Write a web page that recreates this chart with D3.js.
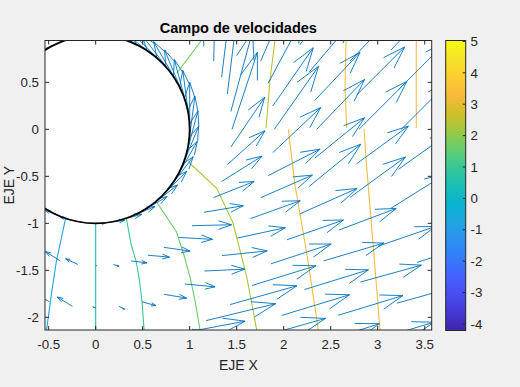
<!DOCTYPE html>
<html>
<head>
<meta charset="utf-8">
<script src="https://cdn.jsdelivr.net/npm/d3@7"></script>
<style>
  body { margin: 0; background: #f0f0f0; }
  text { font-family: "Liberation Sans", Arial, Helvetica, sans-serif; fill: #262626; }
</style>
</head>
<body>
<script>
// rings of the polar grid the field was sampled on
const radii = [1, 1.45, 1.9, 2.35, 2.8, 3.25, 3.7];

// [theta (deg), u, v] (data units, as quiver draws them)
const ring1 = [
  [120, -0.39, -0.225], [112.5, -0.443, -0.184],
  [67.5, -0.462, 0.191], [60, -0.433, 0.25], [52.5, -0.397, 0.304], [45, -0.354, 0.354],
  [37.5, -0.304, 0.397], [30, -0.25, 0.433], [22.5, -0.191, 0.462], [15, -0.129, 0.483],
  [7.5, -0.065, 0.496], [0, 0, 0.5], [-7.5, 0.064, 0.486], [-15, 0.122, 0.454],
  [-22.5, 0.172, 0.416], [-30, 0.215, 0.372], [-37.5, 0.244, 0.317], [-45, 0.262, 0.262],
  [-52.5, 0.262, 0.201], [-60, 0.26, 0.15], [-67.5, 0.249, 0.103], [-75, 0.232, 0.062],
  [-82.5, 0.178, 0.023], [-90, 0.1, 0], [-97.5, -0.04, 0.005], [-105, -0.116, 0.031],
  [-112.5, -0.157, 0.065], [-120, -0.173, 0.1]
];
const ring2 = [
  [-105, -0.16, 0.10], [-97.5, -0.13, 0.06], [-90, 0.01, 0], [-82.5, 0.06, -0.02],
  [-75, 0.17, -0.02], [-67.5, 0.23, -0.02], [-60, 0.28, -0.04], [-52.5, 0.36, -0.02],
  [-45, 0.42, 0.01], [-37.5, 0.42, 0.07], [-30, 0.43, 0.17], [-22.5, 0.43, 0.27],
  [-15, 0.40, 0.36], [-7.5, 0.36, 0.53], [0, 0.27, 0.82], [7.5, 0.23, 0.85],
  [15, 0.11, 0.90], [22.5, 0.11, 0.90], [30, 0.02, 0.90], [37.5, -0.03, 0.90]
];
const ring3 = [
  [-105, -0.09, 0.05], [-97.5, -0.16, 0.10], [-90, -0.03, 0.01], [-82.5, 0.06, -0.03],
  [-75, 0.15, -0.04], [-67.5, 0.24, -0.04], [-60, 0.32, -0.03], [-52.5, 0.43, 0.02],
  [-45, 0.48, 0.05], [-37.5, 0.51, 0.11], [-30, 0.53, 0.19], [-22.5, 0.55, 0.24],
  [-15, 0.55, 0.28], [-7.5, 0.51, 0.48], [0, 0.47, 0.67], [7.5, 0.43, 0.62],
  [15, 0.37, 0.69], [22.5, 0.32, 0.74]
];
const ring4 = [
  [-75, 0.64, 0.11], [-67.5, 0.69, 0.13], [-60, 0.74, 0.18], [-52.5, 0.71, 0.20],
  [-45, 0.68, 0.21], [-37.5, 0.64, 0.21], [-30, 0.60, 0.21], [-22.5, 0.61, 0.27],
  [-15, 0.55, 0.45], [-7.5, 0.53, 0.43], [0, 0.51, 0.53], [7.5, 0.48, 0.51],
  [15, 0.45, 0.53], [22.5, 0.43, 0.55]
];
const ring5 = [
  [-52.5, 0.74, 0.21], [-45, 0.72, 0.22], [-37.5, 0.68, 0.21], [-30, 0.64, 0.19],
  [-22.5, 0.61, 0.23], [-15, 0.59, 0.43], [-7.5, 0.55, 0.40], [0, 0.51, 0.51],
  [7.5, 0.51, 0.51], [15, 0.48, 0.51]
];
const ring6 = [
  [-45, 0.72, 0.23], [-37.5, 0.69, 0.21], [-30, 0.65, 0.18], [-22.5, 0.61, 0.21],
  [-15, 0.59, 0.37], [-7.5, 0.56, 0.40], [0, 0.51, 0.51], [7.5, 0.51, 0.51],
  [15, 0.48, 0.51]
];
const ring7 = [
  [-37.5, 0.66, 0.20], [-30, 0.64, 0.18], [-22.5, 0.62, 0.20], [-15, 0.60, 0.32]
];
const rings = [ring1, ring2, ring3, ring4, ring5, ring6, ring7];

// contour lines [x, y] and their levels
const contourLevels = [-0.8, 0.3, 1.0, 1.6, 2.3, 1.7, 2.5, 3.4, 3.3, 3.4, 3.3];
const contourLines = [
  [[-0.32, -0.947], [-0.419, -1.409], [-0.472, -1.764], [-0.525, -2.155]],
  [[0, -1], [0, -2.135]],
  [[0.326, -0.947], [0.379, -1.231], [0.432, -1.409], [0.468, -1.621], [0.496, -1.869], [0.521, -2.218]],
  [[0.641, -0.763], [0.86, -1.093], [0.939, -1.338], [1.003, -1.571], [1.056, -1.816], [1.11, -2.135]],
  [[0.985, -0.345], [1.287, -0.628], [1.461, -0.997], [1.606, -1.568], [1.713, -2.135]],
  [[0.862, 0.596], [1.128, 0.95]],
  [[1.812, 0.011], [1.854, 0.524], [1.907, 0.95]],
  [[2.67, 0.011], [2.652, 0.453], [2.663, 0.95]],
  [[3.41, 0.011], [3.41, 0.5], [3.41, 0.95]],
  [[2.049, 0], [2.12, -0.593], [2.191, -1.0], [2.262, -1.426], [2.368, -2.135]],
  [[2.854, 0], [2.883, -0.412], [2.953, -1.249], [3.024, -2.135]]
];

const xTicks = [-0.5, 0, 0.5, 1, 1.5, 2, 2.5, 3, 3.5];
const yTicks = [-2, -1.5, -1, -0.5, 0, 0.5];
const cbTicks = [-4, -3, -2, -1, 0, 1, 2, 3, 4, 5];
const cbRange = [-4.21, 5.03];

// parula, sampled
const parula = [
  [0.2422, 0.1504, 0.6603], [0.2706, 0.2147, 0.8364], [0.2813, 0.3006, 0.9414],
  [0.2699, 0.3892, 0.9906], [0.1963, 0.4847, 0.9892], [0.1687, 0.5703, 0.9359],
  [0.1248, 0.6459, 0.8883], [0.0297, 0.7082, 0.8163], [0.0964, 0.7500, 0.7120],
  [0.2161, 0.7843, 0.5923], [0.3909, 0.8029, 0.4354], [0.6174, 0.7876, 0.2612],
  [0.8203, 0.7498, 0.1535], [0.9728, 0.7298, 0.2394], [0.9892, 0.8136, 0.1885],
  [0.9610, 0.8890, 0.1537], [0.9769, 0.9839, 0.0805]
].map(c => d3.rgb(c[0] * 255, c[1] * 255, c[2] * 255).formatHex());
const color = d3.scaleSequential(d3.piecewise(d3.interpolateRgb, parula)).domain(cbRange);

const W = 520, H = 387;
const svg = d3.select("body").append("svg").attr("width", W).attr("height", H);

const x = d3.scaleLinear().domain([-0.539, 3.574]).range([45, 431.7]);
const y = d3.scaleLinear().domain([-2.135, 0.945]).range([330, 40.5]);
const [x0, x1] = x.range(), [y1, y0] = y.range();

svg.append("rect").attr("x", x0).attr("y", y0)
  .attr("width", x1 - x0).attr("height", y1 - y0).attr("fill", "white");

svg.append("clipPath").attr("id", "clip").append("rect")
  .attr("x", x0).attr("y", y0).attr("width", x1 - x0).attr("height", y1 - y0);

const plot = svg.append("g").attr("clip-path", "url(#clip)");

// contour lines
const line = d3.line().x(d => x(d[0])).y(d => y(d[1]));
plot.selectAll("path.cont").data(contourLines).enter().append("path")
  .attr("class", "cont")
  .attr("d", line)
  .attr("fill", "none")
  .attr("stroke", (d, i) => color(contourLevels[i]))
  .attr("stroke-width", 1.1);

// quiver arrows, matlab style heads
const alpha = 0.33, beta = 0.33;
const arrows = [];
rings.forEach((ring, k) => {
  const r = radii[k];
  ring.forEach(([t, u, v]) => {
    const a = t * Math.PI / 180;
    arrows.push({ x0: r * Math.cos(a), y0: r * Math.sin(a), u, v });
  });
});

const qPath = arrows.map(d => {
  const tx = d.x0 + d.u, ty = d.y0 + d.v;
  const h1x = tx - alpha * (d.u + beta * d.v), h1y = ty - alpha * (d.v - beta * d.u);
  const h2x = tx - alpha * (d.u - beta * d.v), h2y = ty - alpha * (d.v + beta * d.u);
  return `M${x(d.x0)},${y(d.y0)}L${x(tx)},${y(ty)}M${x(h1x)},${y(h1y)}L${x(tx)},${y(ty)}L${x(h2x)},${y(h2y)}`;
}).join("");

plot.append("path").attr("d", qPath)
  .attr("fill", "none").attr("stroke", "#0072bd").attr("stroke-width", 0.9);

// cylinder
plot.append("circle").attr("cx", x(0)).attr("cy", y(0)).attr("r", x(1) - x(0))
  .attr("fill", "none").attr("stroke", "black").attr("stroke-width", 1.8);

// axes box, ticks, labels
const axCol = "#262626";
const g = svg.append("g");
g.append("rect").attr("x", x0).attr("y", y0).attr("width", x1 - x0).attr("height", y1 - y0)
  .attr("fill", "none").attr("stroke", axCol).attr("stroke-width", 1);

const tl = 4;
xTicks.forEach(t => {
  g.append("line").attr("x1", x(t)).attr("x2", x(t)).attr("y1", y1).attr("y2", y1 - tl).attr("stroke", axCol);
  g.append("line").attr("x1", x(t)).attr("x2", x(t)).attr("y1", y0).attr("y2", y0 + tl).attr("stroke", axCol);
  g.append("text").attr("x", x(t)).attr("y", 349).attr("text-anchor", "middle")
    .attr("font-size", 13.3).text(t);
});
yTicks.forEach(t => {
  g.append("line").attr("x1", x0).attr("x2", x0 + tl).attr("y1", y(t)).attr("y2", y(t)).attr("stroke", axCol);
  g.append("line").attr("x1", x1).attr("x2", x1 - tl).attr("y1", y(t)).attr("y2", y(t)).attr("stroke", axCol);
  g.append("text").attr("x", 39).attr("y", y(t) + 4.7).attr("text-anchor", "end")
    .attr("font-size", 13.3).text(t);
});

g.append("text").attr("x", (x0 + x1) / 2).attr("y", 370)
  .attr("text-anchor", "middle").attr("font-size", 14).text("EJE X");
g.append("text").attr("transform", `translate(14,${(y0 + y1) / 2}) rotate(-90)`)
  .attr("text-anchor", "middle").attr("font-size", 14).text("EJE Y");
g.append("text").attr("x", (x0 + x1) / 2).attr("y", 32.5)
  .attr("text-anchor", "middle").attr("font-size", 14.5).attr("font-weight", "bold")
  .style("fill", "#000").text("Campo de velocidades");

// colorbar
const cb = d3.scaleLinear().domain(cbRange).range([330.5, 40.5]);
const cbX = 445.7, cbW = 20;
const grad = svg.append("defs").append("linearGradient").attr("id", "cbg")
  .attr("x1", 0).attr("x2", 0).attr("y1", 1).attr("y2", 0);
parula.forEach((c, i) => grad.append("stop").attr("offset", i / (parula.length - 1)).attr("stop-color", c));
svg.append("rect").attr("x", cbX).attr("y", cb.range()[1]).attr("width", cbW)
  .attr("height", cb.range()[0] - cb.range()[1]).attr("fill", "url(#cbg)")
  .attr("stroke", axCol).attr("stroke-width", 1);
cbTicks.forEach(t => {
  svg.append("line").attr("x1", cbX + cbW - 3).attr("x2", cbX + cbW).attr("y1", cb(t)).attr("y2", cb(t)).attr("stroke", axCol);
  svg.append("text").attr("x", 470.5).attr("y", cb(t) + 4.7).attr("font-size", 13.3).text(t);
});
</script>
</body>
</html>
